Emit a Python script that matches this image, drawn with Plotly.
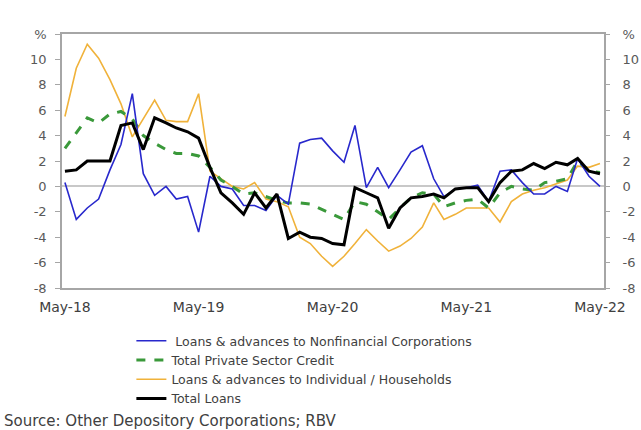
import pandas as pd
import plotly.graph_objects as go

months = pd.date_range("2018-05-01", periods=49, freq="MS")

nfc = [0.3, -2.6, -1.7, -1.0, 1.3, 3.3, 7.3, 1.0, -0.7, 0.0,
       -1.0, -0.8, -3.6, 0.8, 0.0, -0.2, -1.5, -1.5, -1.9, -0.7,
       -1.4, 3.4, 3.7, 3.8, 2.8, 1.9, 4.8, -0.1, 1.5, -0.1,
       1.3, 2.7, 3.2, 0.6, -0.8, -0.2, -0.1, 0.1, -1.2, 1.2,
       1.3, 0.3, -0.6, -0.6, 0.0, -0.4, 2.2, 0.8, 0.0]
private_credit = [3.0, 4.2, 5.4, 5.0, 5.7, 5.9, 5.3, 4.0, 3.4, 2.9,
                  2.6, 2.6, 2.4, 1.5, 0.5, 0.0, -0.6, -0.5, -0.8, -1.1,
                  -1.3, -1.3, -1.4, -1.8, -2.2, -2.6, -1.2, -1.4, -2.0, -2.6,
                  -1.7, -0.9, -0.5, -0.6, -1.6, -1.3, -1.1, -1.0, -1.7, -0.5,
                  0.0, -0.2, -0.3, 0.3, 0.4, 0.6, 2.0, 1.2, 1.1]
households = [5.5, 9.3, 11.2, 10.1, 8.4, 6.5, 3.9, 5.3, 6.8, 5.2,
              5.1, 5.1, 7.3, 1.2, 0.6, 0.0, -0.2, 0.3, -1.0, -1.2,
              -1.6, -4.0, -4.5, -5.5, -6.3, -5.5, -4.5, -3.4, -4.3, -5.1,
              -4.7, -4.1, -3.2, -1.3, -2.6, -2.2, -1.7, -1.7, -1.7, -2.8,
              -1.2, -0.6, -0.3, -0.1, 0.2, 0.5, 1.6, 1.5, 1.8]
total_loans = [1.2, 1.3, 2.0, 2.0, 2.0, 4.8, 5.0, 2.9, 5.4, 5.0,
               4.6, 4.3, 3.8, 1.5, -0.5, -1.3, -2.2, -0.5, -1.7, -0.6,
               -4.1, -3.6, -4.0, -4.1, -4.5, -4.6, -0.1, -0.5, -0.9, -3.3,
               -1.7, -0.9, -0.8, -0.6, -0.9, -0.2, -0.1, -0.1, -1.2, 0.3,
               1.2, 1.3, 1.8, 1.4, 1.9, 1.7, 2.2, 1.2, 1.0]

x_tick_labels = ["May-18", "May-19", "May-20", "May-21", "May-22"]
y_tick_values = list(range(-8, 13, 2))
y_tick_labels = [str(v) for v in range(-8, 11, 2)] + ["%"]

FONT = "DejaVu Sans"

fig = go.Figure()
fig.add_trace(go.Scatter(x=months, y=households, mode="lines",
                         name="Loans & advances to Individual / Households",
                         line=dict(color="#F0B23A", width=1.6), legendrank=3))
fig.add_trace(go.Scatter(x=months, y=private_credit, mode="lines",
                         name="Total Private Sector Credit",
                         line=dict(color="#3A993A", width=3, dash="dash"), legendrank=2))
fig.add_trace(go.Scatter(x=months, y=nfc, mode="lines",
                         name=" Loans & advances to Nonfinancial Corporations",
                         line=dict(color="#2828CC", width=1.6), legendrank=1))
fig.add_trace(go.Scatter(x=months, y=total_loans, mode="lines", yaxis="y2",
                         name="Total Loans",
                         line=dict(color="#000000", width=3), legendrank=4))

tick_dates = [months[i] for i in (0, 12, 24, 36, 48)]

yfont = dict(size=13, color="#595959")

fig.update_layout(
    width=641, height=430,
    margin=dict(l=62, r=37, t=34, b=142),
    paper_bgcolor="white", plot_bgcolor="white",
    font=dict(family=FONT, color="#404040"),
    xaxis=dict(
        type="date", automargin=False,
        range=["2018-04-23", "2022-05-12"],
        tickvals=tick_dates, ticktext=x_tick_labels,
        showgrid=False, ticks="", ticklabelstandoff=5,
        showline=True, linecolor="#a6a6a6", linewidth=1.5, mirror=True,
        tickfont=dict(size=14, color="#404040"),
    ),
    yaxis=dict(
        range=[-8, 12], automargin=False,
        tickvals=y_tick_values, ticktext=y_tick_labels,
        showgrid=False, ticks="outside", ticklen=5, tickcolor="#a6a6a6",
        ticklabelstandoff=6,
        showline=True, linecolor="#a6a6a6", linewidth=1.5, mirror=True,
        zeroline=True, zerolinecolor="#c8c8c8", zerolinewidth=1.5,
        tickfont=yfont,
    ),
    yaxis2=dict(
        overlaying="y", side="right", anchor="x", matches="y", automargin=False,
        range=[-8, 12],
        tickvals=y_tick_values, ticktext=y_tick_labels,
        showgrid=False, ticks="outside", ticklen=5, tickcolor="#a6a6a6",
        ticklabelstandoff=10,
        showline=False, zeroline=False,
        tickfont=yfont,
    ),
    legend=dict(
        orientation="v", x=0.128, y=-0.15, xanchor="left", yanchor="top",
        font=dict(size=12.5, color="#404040"), bgcolor="rgba(0,0,0,0)",
        tracegroupgap=0,
    ),
    showlegend=True,
    annotations=[dict(
        text="Source: Other Depository Corporations; RBV",
        xref="paper", yref="paper", x=-0.111, y=-0.525,
        xanchor="left", yanchor="middle", showarrow=False,
        font=dict(size=15, color="#404040", family=FONT),
    )],
)

fig.write_html("out.html")
